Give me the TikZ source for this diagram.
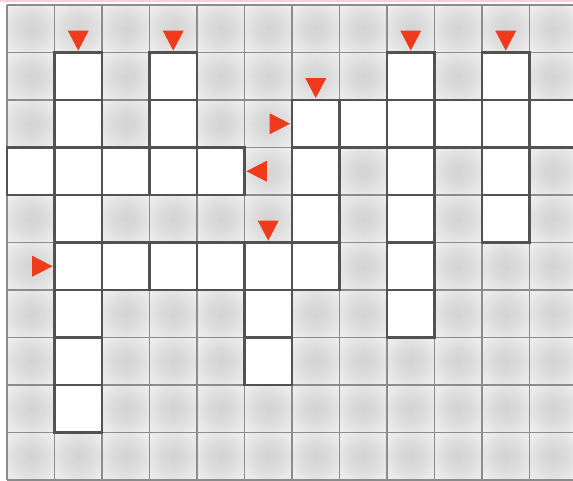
\documentclass[tikz,border=0pt]{standalone}
\usetikzlibrary{positioning}
\definecolor{cuered}{RGB}{240,58,28}
\definecolor{toppink}{RGB}{244,208,222}
\pgfdeclareradialshading{cellblob}{\pgfpoint{0bp}{0bp}}{color(0bp)=(black!17); color(14bp)=(black!14); color(32bp)=(black!7); color(50bp)=(black!5)}
\tikzset{
  blankcell/.style={shading=cellblob},
  opencell/.style={fill=white, draw=black!68, line width=1.6pt},
  gridline/.style={draw=black!45, line width=0.8pt},
  cue/.style={fill=cuered}
}
% cue triangles pointing into cell (#1,#2)
\newcommand{\downcue}[2]{\fill[cue] (#1+0.28,-#2+0.46) -- (#1+0.72,-#2+0.46) -- (#1+0.5,-#2+0.04) -- cycle;}
\newcommand{\rightcue}[2]{\fill[cue] (#1-0.47,-#2-0.28) -- (#1-0.47,-#2-0.72) -- (#1-0.04,-#2-0.5) -- cycle;}
\newcommand{\leftcue}[2]{\fill[cue] (#1+1.47,-#2-0.28) -- (#1+1.47,-#2-0.72) -- (#1+1.04,-#2-0.5) -- cycle;}

\begin{document}
\begin{tikzpicture}
\useasboundingbox (-0.147,0.105) rectangle (11.916,-10.02);
\clip (-0.147,0.105) rectangle (11.916,-10.02);

\begin{scope}
\foreach \c in {0,...,11}
  \foreach \r in {0,...,9}
    \shade[blankcell] (\c,-\r) rectangle +(1,-1);
\draw[gridline] (0,0) grid (12,-10);
\end{scope}

% open cells
\begin{scope}
\foreach \c/\r in {1/1,3/1,8/1,10/1,
  1/2,3/2,6/2,7/2,8/2,9/2,10/2,11/2,
  0/3,1/3,2/3,3/3,4/3,6/3,8/3,10/3,
  1/4,6/4,8/4,10/4,
  1/5,2/5,3/5,4/5,5/5,6/5,8/5,
  1/6,5/6,8/6,
  1/7,5/7,
  1/8}
  \draw[opencell] (\c,-\r) rectangle +(1,-1);
\end{scope}

\downcue{1}{1}
\downcue{3}{1}
\downcue{8}{1}
\downcue{10}{1}
\downcue{6}{2}
\downcue{5}{5}
\rightcue{6}{2}
\rightcue{1}{5}
\leftcue{4}{3}

\draw[toppink, line width=1.2pt] (-0.147,0.075) -- (11.916,0.075);
\end{tikzpicture}
\end{document}
